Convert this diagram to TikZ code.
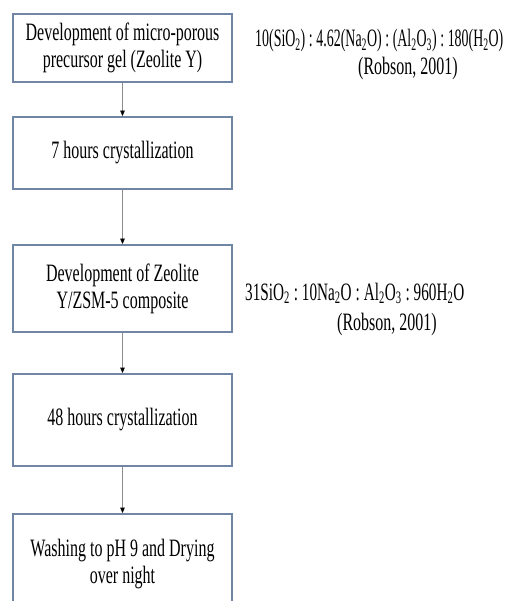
\documentclass[tikz,border=0pt]{standalone}
\usepackage{fontspec}
\setmainfont{Liberation Serif}[FakeStretch=0.64]
\usetikzlibrary{arrows.meta}
\definecolor{boxline}{RGB}{112,134,164}
\definecolor{arrowline}{RGB}{140,140,140}
\begin{document}
\begin{tikzpicture}[x=1pt,y=-1pt,
        stepbox/.style={draw=boxline, line width=1.8pt, fill=white, minimum width=219pt,
            align=center, font=\fontsize{25}{27}\selectfont},
        note/.style={anchor=base west, inner sep=0pt, font=\fontsize{25}{27}\selectfont},
        flow/.style={draw=arrowline, line width=0.8pt, -{Triangle[width=4.5pt,length=5.5pt,color=black]}}]
        \clip (0,0) rectangle (517,601);
        \fill[white] (0,0) rectangle (517,601);
        \node[stepbox, minimum height=68pt] (gel) at (122.5,48) {Development of micro-porous\\precursor gel (Zeolite Y)};
        \node[stepbox, minimum height=72pt] (cryst1) at (122.5,153) {7 hours crystallization};
        \node[stepbox, minimum height=87pt] (comp) at (122.5,288.5) {Development of Zeolite\\Y/ZSM-5 composite};
        \node[stepbox, minimum height=92pt] (cryst2) at (122.5,420) {48 hours crystallization};
        \node[stepbox, minimum height=100pt] (wash) at (122.5,564) {Washing to pH 9 and Drying\\over night};
        \draw[flow] (gel) -- (cryst1);
        \draw[flow] (cryst1) -- (comp);
        \draw[flow] (comp) -- (cryst2);
        \draw[flow] (cryst2) -- (wash);
        \node[note] (ratio1) at (255,47) {\scalebox{0.87}[1]{10(SiO\textsubscript{2})\,:\,4.62(Na\textsubscript{2}O)\,:\,(Al\textsubscript{2}O\textsubscript{3})\,:\,180(H\textsubscript{2}O)}};
        \node[note] (ref1) at (358,75) {(Robson, 2001)};
        \node[note] (ratio2) at (245,300) {\scalebox{0.95}[1]{31SiO\textsubscript{2}\,:\,10Na\textsubscript{2}O\,:\,Al\textsubscript{2}O\textsubscript{3}\,:\,960H\textsubscript{2}O}};
        \node[note] (ref2) at (337,330) {(Robson, 2001)};
    \end{tikzpicture}
\end{document}
